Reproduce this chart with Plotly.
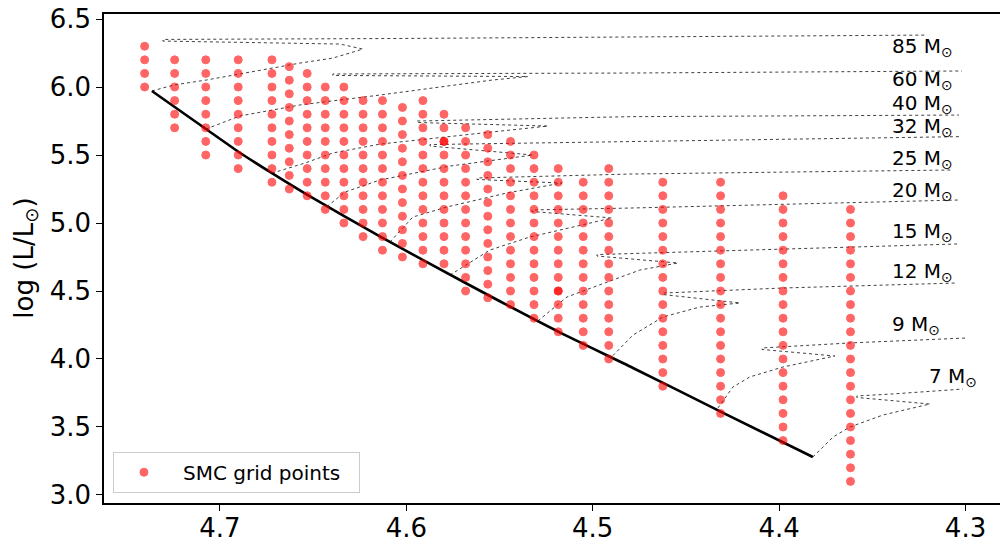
import plotly.graph_objects as go

# ---------------- data ----------------
grid_logT = [4.7404, 4.7243, 4.7076, 4.6902, 4.6721, 4.6628, 4.6532, 4.6435, 4.6335,
             4.6232, 4.6128, 4.6021, 4.5911, 4.5798, 4.5682, 4.5563, 4.5441, 4.5315,
             4.5185, 4.5051, 4.4914, 4.4624, 4.4314, 4.3979, 4.3617]
grid_logL = [
    [6.3, 6.2, 6.1, 6.0],
    [6.2, 6.1, 6.0, 5.9, 5.8, 5.7],
    [6.2, 6.1, 6.0, 5.9, 5.8, 5.7, 5.6, 5.5],
    [6.2, 6.1, 6.0, 5.9, 5.8, 5.7, 5.6, 5.5, 5.4],
    [6.2, 6.1, 6.0, 5.9, 5.8, 5.7, 5.6, 5.5, 5.4, 5.3],
    [6.15, 6.05, 5.95, 5.85, 5.75, 5.65, 5.55, 5.45, 5.35, 5.25],
    [6.1, 6.0, 5.9, 5.8, 5.7, 5.6, 5.5, 5.4, 5.3, 5.2],
    [6.0, 5.9, 5.8, 5.7, 5.6, 5.5, 5.4, 5.3, 5.2, 5.1],
    [6.0, 5.9, 5.8, 5.7, 5.6, 5.5, 5.4, 5.3, 5.2, 5.1, 5.0],
    [5.9, 5.8, 5.7, 5.6, 5.5, 5.4, 5.3, 5.2, 5.1, 5.0, 4.9],
    [5.9, 5.8, 5.7, 5.6, 5.5, 5.4, 5.3, 5.2, 5.1, 5.0, 4.9, 4.8],
    [5.85, 5.75, 5.65, 5.55, 5.45, 5.35, 5.25, 5.15, 5.05, 4.95, 4.85, 4.75],
    [5.9, 5.8, 5.7, 5.6, 5.5, 5.4, 5.3, 5.2, 5.1, 5.0, 4.9, 4.8, 4.7],
    [5.8, 5.7, 5.6, 5.5, 5.4, 5.3, 5.2, 5.1, 5.0, 4.9, 4.8, 4.7],
    [5.7, 5.6, 5.5, 5.4, 5.3, 5.2, 5.1, 5.0, 4.9, 4.8, 4.7, 4.6, 4.5],
    [5.65, 5.55, 5.45, 5.35, 5.25, 5.15, 5.05, 4.95, 4.85, 4.75, 4.65, 4.55, 4.45],
    [5.6, 5.5, 5.4, 5.3, 5.2, 5.1, 5.0, 4.9, 4.8, 4.7, 4.6, 4.5, 4.4],
    [5.5, 5.4, 5.3, 5.2, 5.1, 5.0, 4.9, 4.8, 4.7, 4.6, 4.5, 4.4, 4.3],
    [5.4, 5.3, 5.2, 5.1, 5.0, 4.9, 4.8, 4.7, 4.6, 4.5, 4.4, 4.3, 4.2],
    [5.3, 5.2, 5.1, 5.0, 4.9, 4.8, 4.7, 4.6, 4.5, 4.4, 4.3, 4.2, 4.1],
    [5.4, 5.3, 5.2, 5.1, 5.0, 4.9, 4.8, 4.7, 4.6, 4.5, 4.4, 4.3, 4.2, 4.1, 4.0],
    [5.3, 5.2, 5.1, 5.0, 4.9, 4.8, 4.7, 4.6, 4.5, 4.4, 4.3, 4.2, 4.1, 4.0, 3.9, 3.8],
    [5.3, 5.2, 5.1, 5.0, 4.9, 4.8, 4.7, 4.6, 4.5, 4.4, 4.3, 4.2, 4.1, 4.0, 3.9, 3.8, 3.7, 3.6],
    [5.2, 5.1, 5.0, 4.9, 4.8, 4.7, 4.6, 4.5, 4.4, 4.3, 4.2, 4.1, 4.0, 3.9, 3.8, 3.7, 3.6, 3.5, 3.4],
    [5.1, 5.0, 4.9, 4.8, 4.7, 4.6, 4.5, 4.4, 4.3, 4.2, 4.1, 4.0, 3.9, 3.8, 3.7, 3.6, 3.5, 3.4,
     3.3, 3.2, 3.1],
]
# points that appear twice (darker dots)
dup_logT = [4.5798, 4.5185]
dup_logL = [5.6, 4.5]

zams_logT = [4.7365, 4.7075, 4.6903, 4.6723, 4.6535, 4.6142, 4.5680, 4.5185, 4.4784,
             4.4314, 4.3819]
zams_logL = [5.971, 5.691, 5.526, 5.368, 5.210, 4.901, 4.557, 4.201, 3.934,
             3.613, 3.279]

t85_logT = [4.7365, 4.7247, 4.7075, 4.6903, 4.6721, 4.6571, 4.6394, 4.6233, 4.6356, 4.7306, 4.7306, 4.6034, 4.3207]
t85_logL = [5.971, 6.015, 6.051, 6.095, 6.140, 6.176, 6.213, 6.279, 6.316, 6.338, 6.350, 6.357, 6.382]
t60_logT = [4.7075, 4.6893, 4.6571, 4.6142, 4.5541, 4.5348, 4.6394, 4.6394, 4.4800, 4.3019]
t60_logL = [5.691, 5.787, 5.868, 5.941, 6.051, 6.077, 6.085, 6.096, 6.103, 6.118]
t40_logT = [4.6721, 4.6544, 4.6394, 4.6142, 4.5605, 4.5240, 4.5943, 4.5943, 4.4800, 4.3035]
t40_logL = [5.366, 5.441, 5.515, 5.580, 5.660, 5.713, 5.739, 5.750, 5.782, 5.794]
t32_logT = [4.6426, 4.6329, 4.6142, 4.5766, 4.5321, 4.5873, 4.5873, 4.4800, 4.3035]
t32_logL = [5.120, 5.228, 5.316, 5.419, 5.500, 5.566, 5.577, 5.598, 5.635]
t25_logT = [4.6088, 4.5965, 4.5782, 4.5460, 4.5165, 4.5621, 4.5621, 4.4800, 4.3068]
t25_logL = [4.860, 5.044, 5.118, 5.221, 5.294, 5.320, 5.331, 5.360, 5.390]
t20_logT = [4.5766, 4.5552, 4.5337, 4.5069, 4.4897, 4.5326, 4.5326, 4.4800, 4.3041]
t20_logL = [4.617, 4.801, 4.897, 4.985, 5.037, 5.085, 5.096, 5.110, 5.169]
t15_logT = [4.5294, 4.5138, 4.4892, 4.4747, 4.4543, 4.4977, 4.4977, 4.3041]
t15_logL = [4.280, 4.456, 4.581, 4.654, 4.706, 4.757, 4.768, 4.846]
t12_logT = [4.4892, 4.4784, 4.4623, 4.4425, 4.4210, 4.4623, 4.4623, 4.3980, 4.3046]
t12_logL = [4.025, 4.176, 4.309, 4.382, 4.412, 4.474, 4.485, 4.522, 4.559]
t9_logT = [4.4328, 4.4248, 4.4157, 4.3980, 4.3701, 4.4092, 4.4092, 4.3620, 4.3003]
t9_logL = [3.640, 3.794, 3.868, 3.941, 4.022, 4.070, 4.081, 4.118, 4.154]
t7_logT = [4.3819, 4.3711, 4.3620, 4.3443, 4.3191, 4.3583, 4.3583, 4.3390, 4.3014]
t7_logL = [3.279, 3.426, 3.500, 3.588, 3.669, 3.717, 3.728, 3.743, 3.779]

tracks_T = [t85_logT, t60_logT, t40_logT, t32_logT, t25_logT, t20_logT, t15_logT, t12_logT, t9_logT, t7_logT]
tracks_L = [t85_logL, t60_logL, t40_logL, t32_logL, t25_logL, t20_logL, t15_logL, t12_logL, t9_logL, t7_logL]

mass_labels = ["85", "60", "40", "32", "25", "20", "15", "12", "9", "7"]
label_logT = [4.3405, 4.3405, 4.3405, 4.3405, 4.3405, 4.3405, 4.3405, 4.3405, 4.3405, 4.3205]
label_logL = [6.296, 6.051, 5.875, 5.706, 5.471, 5.238, 4.936, 4.642, 4.250, 3.870]

x_ticks = [4.7, 4.6, 4.5, 4.4, 4.3]
y_ticks = [3.0, 3.5, 4.0, 4.5, 5.0, 5.5, 6.0, 6.5]

# ---------------- figure ----------------
FONT = "DejaVu Sans"
fig = go.Figure()

for tT, tL in zip(tracks_T, tracks_L):
    fig.add_trace(go.Scatter(x=tT, y=tL, mode="lines", showlegend=False, hoverinfo="skip",
                             line=dict(color="rgba(0,0,0,0.75)", width=1, dash="dot")))

fig.add_trace(go.Scatter(x=zams_logT, y=zams_logL, mode="lines", showlegend=False,
                         line=dict(color="black", width=2.6, shape="spline", smoothing=0.6)))

px, py = [], []
for T, Ls in zip(grid_logT, grid_logL):
    for L in Ls:
        px.append(T)
        py.append(L)

marker_style = dict(color="red", size=8, opacity=0.6, line=dict(color="red", width=1))
fig.add_trace(go.Scatter(x=px, y=py, mode="markers",
                         name="\u00a0\u00a0\u00a0SMC grid points\u00a0\u00a0",
                         marker=marker_style))
fig.add_trace(go.Scatter(x=dup_logT, y=dup_logL, mode="markers", showlegend=False,
                         marker=marker_style))

for m, T, L in zip(mass_labels, label_logT, label_logL):
    fig.add_annotation(x=T, y=L, xref="x", yref="y", text=f"{m} M<sub>⊙</sub>",
                       showarrow=False, xanchor="left", yanchor="middle",
                       font=dict(family=FONT, size=20, color="black"))

fig.add_annotation(x=-0.088, y=0.5, xref="paper", yref="paper",
                   text="log (L/L<sub>⊙</sub>)", textangle=-90, showarrow=False,
                   xanchor="center", yanchor="middle",
                   font=dict(family=FONT, size=26, color="black"))

fig.update_layout(
    width=1000, height=542,
    margin=dict(l=104, r=0, t=14, b=39),
    plot_bgcolor="white", paper_bgcolor="white",
    font=dict(family=FONT, size=26, color="black"),
    legend=dict(x=0.01, y=0.021, xanchor="left", yanchor="bottom", indentation=10,
                bgcolor="rgba(255,255,255,0.8)", bordercolor="#cccccc", borderwidth=1,
                font=dict(family=FONT, size=20, color="black")),
)
fig.update_xaxes(range=[4.7622, 4.2815], tickvals=x_ticks, ticktext=[f"{v:.1f}" for v in x_ticks],
                 showgrid=False, zeroline=False, showline=True, linecolor="black", linewidth=1.5,
                 mirror=True, ticks="outside", ticklen=6, tickwidth=1.3, tickcolor="black",
                 ticklabelstandoff=-5, automargin=False)
fig.update_yaxes(range=[2.941, 6.537], tickvals=y_ticks, ticktext=[f"{v:.1f}" for v in y_ticks],
                 showgrid=False, zeroline=False, showline=True, linecolor="black", linewidth=1.5,
                 mirror=False, ticks="outside", ticklen=6, tickwidth=1.3, tickcolor="black",
                 automargin=False)

fig.write_html("out.html")
